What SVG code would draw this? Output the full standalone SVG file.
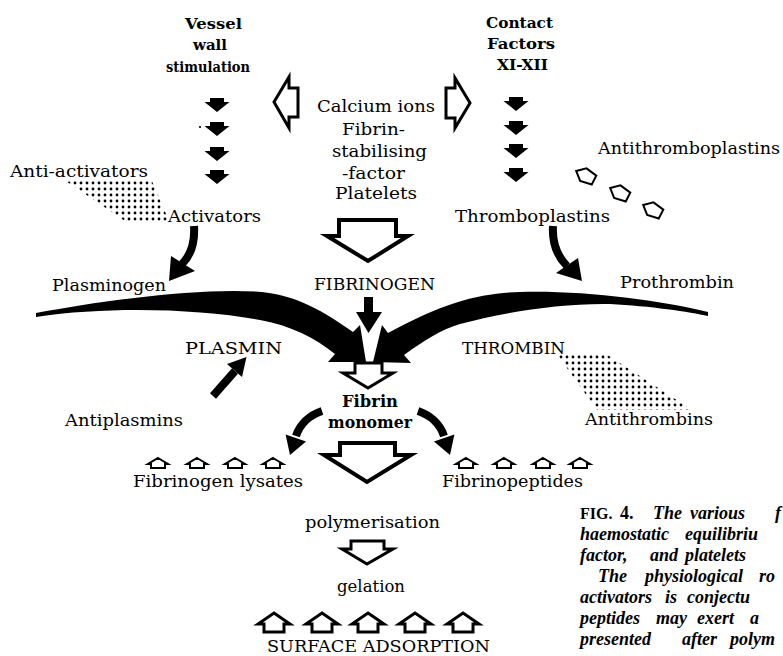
<svg xmlns="http://www.w3.org/2000/svg" width="783" height="656" viewBox="0 0 783 656">
<style>
  text { font-family: "DejaVu Serif", "Liberation Serif", serif; font-size: 17px; fill: #000; }
  .b { font-weight: bold; font-size: 15px; }
  .bm { font-weight: bold; font-size: 16px; }
  .cap { font-family: "Liberation Serif", "Times New Roman", serif; font-style: italic; font-weight: bold; font-size: 18px; }
  .up { font-style: normal; }
  .ol { fill: #fff; stroke: #000; stroke-width: 4; stroke-linejoin: miter; }
  .ol3 { fill: #fff; stroke: #000; stroke-width: 3; stroke-linejoin: miter; }
  .hs { fill: #fff; stroke: #000; stroke-width: 2; stroke-linejoin: miter; }
  .blk { fill: #000; }
  .shaft { fill: none; stroke: #000; stroke-width: 8; }
</style>
<defs>
  <pattern id="dots" width="6" height="6" patternUnits="userSpaceOnUse">
    <circle cx="3" cy="3" r="1.4" fill="#000"/>
  </pattern>
  <path id="barrow" d="M-7,0 L7,0 L7,4 L12.5,4 L0,14 L-12.5,4 L-7,4 Z" fill="#000"/>
  <path id="hsm" d="M0,-6 L10,0 L7,0 L7,4 L-7,4 L-7,0 L-10,0 Z" class="hs"/>
  <path id="pent" d="M-11,0 L-3,-7 L9,-5 L9,5 L-3,7 Z" class="hs"/>
  <path id="hlg" d="M0,-11 L16,0 L10,0 L10,8 L-10,8 L-10,0 L-16,0 Z" fill="#fff" stroke="#000" stroke-width="3" stroke-linejoin="miter"/>
</defs>
<rect width="783" height="656" fill="#fff"/>

<g id="connectors">
  <use href="#barrow" x="217" y="98"/>
  <use href="#barrow" x="217" y="122"/>
  <use href="#barrow" x="217" y="147"/>
  <use href="#barrow" x="217" y="170"/>
  <circle cx="200" cy="127" r="1.1" fill="#000"/>
  <use href="#barrow" x="516" y="97"/>
  <use href="#barrow" x="516" y="121"/>
  <use href="#barrow" x="516" y="144"/>
  <use href="#barrow" x="516" y="168"/>
  <polygon class="ol3" points="274,102 289,77 289,88 298,88 298,117 289,117 289,128"/>
  <polygon class="ol3" points="470,103 455,78 455,88 446,88 446,118 455,118 455,128"/>
  <polygon class="ol" points="339,220 396,220 396,236 408,236 368,261 327,236 339,236"/>
  <path class="shaft" d="M194,226 C195,242 192,254 182,264"/>
  <polygon class="blk" points="171,256 195,271 169,281"/>
  <path class="shaft" d="M553,226 C552,243 557,256 567,266"/>
  <polygon class="blk" points="556,273 578,258 582,281"/>
  <path class="blk" d="M36,313 C100,301 200,287 262,292 C290,295 315,305 353,332 L360,325 L366,362 L328,362 L335,354 C315,338 292,326 260,320 C200,309 110,306 36,317 Z"/>
  <path class="blk" d="M708,312 C660,300 580,290 520,292 C480,293 445,302 388,333 L382,325 L373,362 L411,363 L404,355 C425,340 440,330 460,324 C500,313 560,303 610,304 C650,306 690,312 708,316 Z"/>
  <rect x="364" y="297" width="9" height="16" fill="#000"/>
  <polygon class="blk" points="356,312 382,312 368.5,333"/>
  <path class="shaft" d="M213,396 L235,371"/>
  <polygon class="blk" points="227,364 242,377 246.5,357"/>
  <polygon class="ol3" points="355,363 382,363 382,373 393,373 368,388 343,373 355,373"/>
  <path class="shaft" d="M322,411 C310,415 300,424 296,436"/>
  <polygon class="blk" points="285.6,434.4 306,441.6 290,455"/>
  <path class="shaft" d="M418,411 C430,415 440,424 444,436"/>
  <polygon class="blk" points="454.4,434.4 434,441.6 450,455"/>
  <polygon class="ol" points="340,443 395,443 395,455 411,455 367,482 324,455 340,455"/>
  <polygon class="ol3" points="351,541 384,541 384,549 393,549 367,564 342,549 351,549"/>
</g>

<g id="vessel-wall">
  <text class="b" x="185" y="29" textLength="57" lengthAdjust="spacingAndGlyphs">Vessel</text>
  <text class="b" x="193" y="50" textLength="34" lengthAdjust="spacingAndGlyphs">wall</text>
  <text class="b" x="166" y="72" textLength="84" lengthAdjust="spacingAndGlyphs">stimulation</text>
</g>
<g id="contact-factors">
  <text class="b" x="486" y="28" textLength="67" lengthAdjust="spacingAndGlyphs">Contact</text>
  <text class="b" x="487" y="49" textLength="68" lengthAdjust="spacingAndGlyphs">Factors</text>
  <text class="b" x="497" y="70" textLength="51" lengthAdjust="spacingAndGlyphs">XI-XII</text>
</g>
<g id="cofactors">
  <text x="317" y="112" textLength="118" lengthAdjust="spacingAndGlyphs">Calcium ions</text>
  <text x="342" y="135" textLength="63" lengthAdjust="spacingAndGlyphs">Fibrin-</text>
  <text x="332" y="157" textLength="95" lengthAdjust="spacingAndGlyphs">stabilising</text>
  <text x="342" y="179" textLength="63" lengthAdjust="spacingAndGlyphs">-factor</text>
  <text x="335" y="199" textLength="82" lengthAdjust="spacingAndGlyphs">Platelets</text>
</g>
<g id="anti-activators">
  <text x="10" y="177" textLength="138" lengthAdjust="spacingAndGlyphs">Anti-activators</text>
  <polygon points="63,179 151,179 169,221 125,221" fill="url(#dots)"/>
</g>
<g id="activators">
  <text x="168" y="222" textLength="93" lengthAdjust="spacingAndGlyphs">Activators</text>
</g>
<g id="thromboplastins">
  <text x="455" y="222" textLength="155" lengthAdjust="spacingAndGlyphs">Thromboplastins</text>
</g>
<g id="antithromboplastins">
  <text x="598" y="154" textLength="182" lengthAdjust="spacingAndGlyphs">Antithromboplastins</text>
  <use href="#pent" transform="translate(586,176) rotate(27)"/>
  <use href="#pent" transform="translate(620,193) rotate(27)"/>
  <use href="#pent" transform="translate(653,210) rotate(27)"/>
</g>
<g id="plasminogen">
  <text x="52" y="291" textLength="114" lengthAdjust="spacingAndGlyphs">Plasminogen</text>
</g>
<g id="fibrinogen">
  <text x="314" y="290" textLength="121" lengthAdjust="spacingAndGlyphs">FIBRINOGEN</text>
</g>
<g id="prothrombin">
  <text x="620" y="288" textLength="114" lengthAdjust="spacingAndGlyphs">Prothrombin</text>
</g>
<g id="plasmin">
  <text x="185" y="354" textLength="97" lengthAdjust="spacingAndGlyphs">PLASMIN</text>
</g>
<g id="thrombin">
  <text x="462" y="354" textLength="103" lengthAdjust="spacingAndGlyphs">THROMBIN</text>
</g>
<g id="antiplasmins">
  <text x="65" y="426" textLength="118" lengthAdjust="spacingAndGlyphs">Antiplasmins</text>
</g>
<g id="antithrombins">
  <polygon points="557,354 606,354 692,410 597,410" fill="url(#dots)"/>
  <text x="585" y="425" textLength="128" lengthAdjust="spacingAndGlyphs">Antithrombins</text>
</g>
<g id="fibrin-monomer">
  <text class="bm" x="342" y="407" textLength="56" lengthAdjust="spacingAndGlyphs">Fibrin</text>
  <text class="bm" x="328" y="428" textLength="84" lengthAdjust="spacingAndGlyphs">monomer</text>
</g>
<g id="fibrinogen-lysates">
  <use href="#hsm" x="158" y="464"/>
  <use href="#hsm" x="197" y="464"/>
  <use href="#hsm" x="235" y="464"/>
  <use href="#hsm" x="273" y="464"/>
  <text x="133" y="487" textLength="170" lengthAdjust="spacingAndGlyphs">Fibrinogen lysates</text>
</g>
<g id="fibrinopeptides">
  <use href="#hsm" x="466" y="464"/>
  <use href="#hsm" x="504" y="464"/>
  <use href="#hsm" x="543" y="464"/>
  <use href="#hsm" x="580" y="464"/>
  <text x="442" y="487" textLength="141" lengthAdjust="spacingAndGlyphs">Fibrinopeptides</text>
</g>
<g id="polymerisation">
  <text x="305" y="528" textLength="135" lengthAdjust="spacingAndGlyphs">polymerisation</text>
</g>
<g id="gelation">
  <text x="337" y="592" textLength="68" lengthAdjust="spacingAndGlyphs">gelation</text>
</g>
<g id="surface-adsorption">
  <use href="#hlg" x="274" y="624"/>
  <use href="#hlg" x="322" y="624"/>
  <use href="#hlg" x="368" y="624"/>
  <use href="#hlg" x="415" y="624"/>
  <use href="#hlg" x="463" y="624"/>
  <text x="267" y="652" textLength="223" lengthAdjust="spacingAndGlyphs">SURFACE ADSORPTION</text>
</g>

<g id="caption">
  <text class="cap" y="519"><tspan x="580" class="up" style="font-size:16px">FIG.</tspan><tspan x="620" class="up">4.</tspan><tspan x="653">The</tspan><tspan x="690">various</tspan><tspan x="775">f</tspan></text>
  <text class="cap" y="540"><tspan x="580">haemostatic</tspan><tspan x="685">equilibriu</tspan></text>
  <text class="cap" y="561"><tspan x="580">factor,</tspan><tspan x="650">and</tspan><tspan x="685">platelets</tspan></text>
  <text class="cap" y="582"><tspan x="598">The</tspan><tspan x="645">physiological</tspan><tspan x="759">ro</tspan></text>
  <text class="cap" y="603"><tspan x="580">activators</tspan><tspan x="665">is</tspan><tspan x="687">conjectu</tspan></text>
  <text class="cap" y="624"><tspan x="580">peptides</tspan><tspan x="656">may</tspan><tspan x="697">exert</tspan><tspan x="750">a</tspan></text>
  <text class="cap" y="645"><tspan x="580">presented</tspan><tspan x="682">after</tspan><tspan x="730">polym</tspan></text>
</g>
</svg>
